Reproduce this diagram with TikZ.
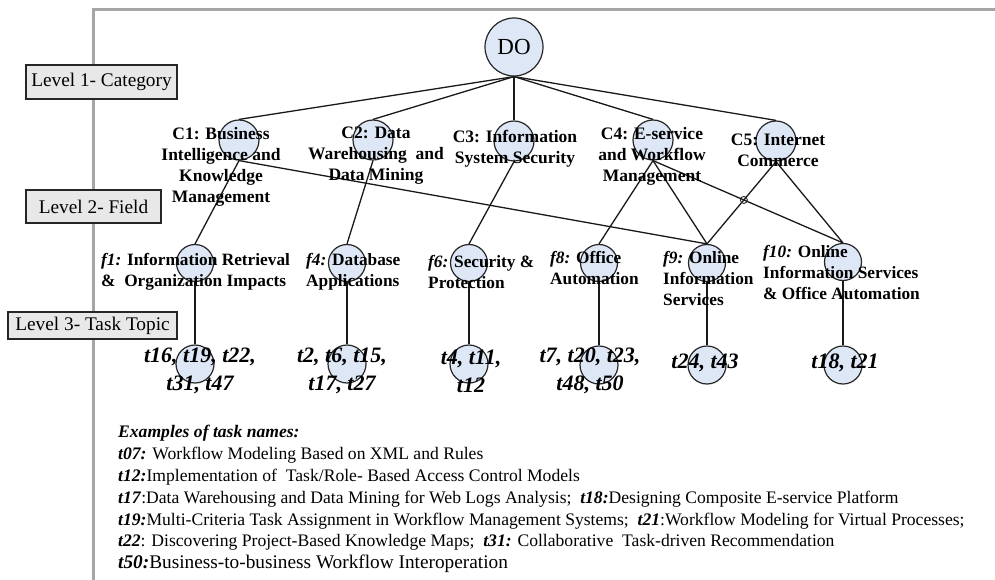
\documentclass[tikz,border=0pt]{standalone}
\usepackage{fontspec}
\setmainfont{Liberation Serif}
\usetikzlibrary{intersections}
\definecolor{cfill}{RGB}{222,231,246}
\definecolor{bfill}{RGB}{232,232,232}
\definecolor{framec}{RGB}{165,165,165}
\tikzset{
  circ/.style={circle, draw=black!85, fill=cfill, line width=1.2pt, inner sep=0pt, minimum size=#1},
  lvl/.style={draw=black!85, fill=bfill, line width=1.5pt, font=\fontsize{19.3}{22}\selectfont, inner sep=0pt},
  clab/.style={font=\fontsize{17.5}{21}\selectfont\bfseries, align=center, inner sep=0pt},
  flab/.style={font=\fontsize{17.3}{21}\selectfont\bfseries, align=left, inner sep=0pt, anchor=west},
  tlab/.style={font=\fontsize{22}{28}\selectfont\bfseries\itshape, align=center, inner sep=0pt},
  link/.style={line width=1.3pt, black!90},
  leg/.style={font=\fontsize{17.6}{21}\selectfont, anchor=base west, inner sep=0pt},
}
\newcommand{\bi}[1]{\textbf{\textit{#1}}}
\begin{document}
\begin{tikzpicture}[x=1pt,y=-1pt]
\useasboundingbox (0,0) rectangle (995,580);
% frame
\draw[framec, line width=3pt] (93,580) -- (93,10) -- (995,10);
% level boxes
\node[lvl, minimum width=151pt, minimum height=34pt] (L1) at (101.5,82) {Level 1- Category};
\node[lvl, minimum width=135pt, minimum height=33pt] (L2) at (93.5,206.5) {Level 2- Field};
\node[lvl, minimum width=169pt, minimum height=27pt] (L3) at (92.5,325.5) {Level 3- Task Topic};
% circles
\node[circ=58pt] (DO) at (514,47) {};
\node[circ=40pt] (C1) at (239,140) {};
\node[circ=40pt] (C2) at (373,140) {};
\node[circ=40pt] (C3) at (514,141) {};
\node[circ=40pt] (C4) at (653,140) {};
\node[circ=40pt] (C5) at (776,141) {};
\node[circ=37pt] (F1) at (195,263) {};
\node[circ=37pt] (F4) at (347,263) {};
\node[circ=37pt] (F6) at (469,263) {};
\node[circ=37pt] (F8) at (599,263) {};
\node[circ=37pt] (F9) at (707,263) {};
\node[circ=37pt] (F10) at (843,262) {};
\node[circ=38pt] (T1) at (195,364) {};
\node[circ=38pt] (T4) at (347,364) {};
\node[circ=38pt] (T6) at (469,364) {};
\node[circ=38pt] (T8) at (599,365) {};
\node[circ=38pt] (T9) at (707,365) {};
\node[circ=38pt] (T10) at (843,365) {};
% links
\foreach \c in {C1,C2,C3,C4,C5} \draw[link] (DO.south) -- (\c.north);
\draw[link] (C1.south) -- (F1.north);
\draw[link] (C1.south) -- (F9.north);
\draw[link] (C2.south) -- (F4.north);
\draw[link] (C3.south) -- (F6.north);
\draw[link] (C4.south) -- (F8.north);
\draw[link] (C4.south) -- (F9.north);
\draw[link, name path=p1] (C4.south) -- (F10.north);
\draw[link, name path=p2] (C5.south) -- (F9.north);
\draw[link] (C5.south) -- (F10.north);
\path[name intersections={of=p1 and p2, by=hop}];
\draw[black!85, line width=0.9pt] (hop) circle (3.5pt);
\foreach \f/\t in {F1/T1,F4/T4,F6/T6,F8/T8,F9/T9,F10/T10} \draw[link] (\f.south) -- (\t.north);
% labels
\node[font=\fontsize{23}{26}\selectfont, inner sep=0pt] (DOl) at (DO) {DO};
\node[clab] (C1l) at (221,166.5) {C1: Business\\Intelligence and\\Knowledge\\Management};
\node[clab] (C2l) at (376,156) {C2: Data\\Warehousing\ \ and\\Data Mining};
\node[clab] (C3l) at (515,149) {C3: Information\\System Security};
\node[clab] (C4l) at (652,156.5) {C4: E-service\\and Workflow\\Management};
\node[clab] (C5l) at (778,150) {C5: Internet\\Commerce};
\node[flab] (F1l) at (101,271.5) {\textit{f1:} Information Retrieval\\\&\ \ Organization Impacts};
\node[flab] (F4l) at (306,272) {\textit{f4:} Database\\Applications};
\node[flab] (F6l) at (428,271.5) {\textit{f6:} Security \&\\Protection};
\node[flab] (F8l) at (550,268.5) {\textit{f8:} Office\\Automation};
\node[flab] (F9l) at (663,278.5) {\textit{f9:} Online\\Information\\Services};
\node[flab] (F10l) at (763,272.5) {\textit{f10:} Online\\Information Services\\\& Office Automation};
\node[tlab] (T1l) at (200,371) {t16, t19, t22,\\t31, t47};
\node[tlab] (T4l) at (342,371) {t2, t6, t15,\\t17, t27};
\node[tlab] (T6l) at (471,371) {t4, t11,\\t12};
\node[tlab] (T8l) at (590,371) {t7, t20, t23,\\t48, t50};
\node[tlab] (T9l) at (705,363) {t24, t43};
\node[tlab] (T10l) at (845,363) {t18, t21};
% legend
\node[leg] (G0) at (118,437) {\bi{Examples of task names:}};
\node[leg] (G1) at (118,459) {\bi{t07:} Workflow Modeling Based on XML and Rules};
\node[leg] (G2) at (118,481) {\bi{t12:}Implementation of\ \ Task/Role- Based Access Control Models};
\node[leg] (G3) at (118,503) {\bi{t17}:Data Warehousing and Data Mining for Web Logs Analysis;\ \ \bi{t18:}Designing Composite E-service Platform};
\node[leg] (G4) at (118,525) {\bi{t19:}Multi-Criteria Task Assignment in Workflow Management Systems;\ \ \bi{t21}:Workflow Modeling for Virtual Processes;};
\node[leg] (G5) at (118,546) {\bi{t22}: Discovering Project-Based Knowledge Maps;\ \ \bi{t31:} Collaborative\ \ Task-driven Recommendation};
\node[leg, font=\fontsize{19.3}{22}\selectfont] (G6) at (118,568) {\bi{t50:}Business-to-business Workflow Interoperation};
\end{tikzpicture}
\end{document}
